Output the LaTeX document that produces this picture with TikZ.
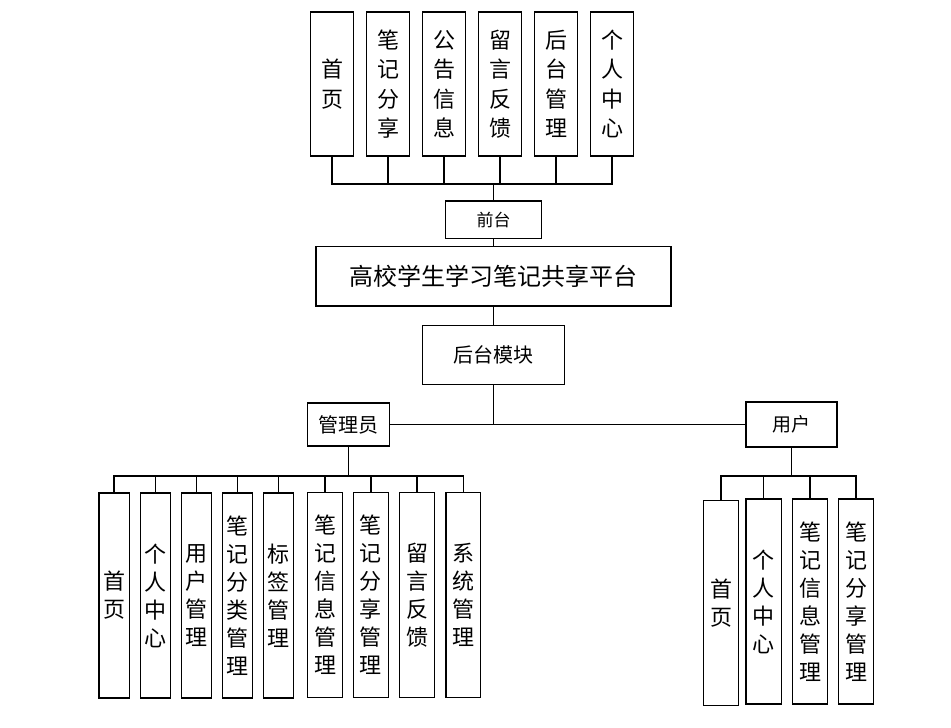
\documentclass[tikz,border=0pt]{standalone}
\usepackage{fontspec}
\setmainfont{Noto Sans CJK SC}
\begin{document}
\begin{tikzpicture}[x=1pt,y=-1pt,
  box/.style={draw,line width=1.5pt,inner sep=0pt,align=center},
  vbox/.style={box,minimum width=43pt,minimum height=144pt,font=\fontsize{22}{29.5}\selectfont},
  lbox/.style={box,minimum height=205pt,font=\fontsize{22}{28}\selectfont},
  conn/.style={line width=1.5pt}]
\useasboundingbox (0,0) rectangle (951,728);
% top modules
\node[vbox] (t1) at (332,84) {首\\页};
\node[vbox] (t2) at (388,84) {笔\\记\\分\\享};
\node[vbox] (t3) at (444,84) {公\\告\\信\\息};
\node[vbox] (t4) at (500,84) {留\\言\\反\\馈};
\node[vbox] (t5) at (556,84) {后\\台\\管\\理};
\node[vbox] (t6) at (612,84) {个\\人\\中\\心};
\node[box,minimum width=95.6pt,minimum height=37.3pt,font=\fontsize{17}{20}\selectfont] (qt) at (493.5,219.7) {前台};
\node[box,minimum width=355pt,minimum height=59.3pt,font=\fontsize{24}{28}\selectfont] (main) at (493.5,276.3) {高校学生学习笔记共享平台};
\node[box,minimum width=142.4pt,minimum height=59pt,font=\fontsize{20}{24}\selectfont] (ht) at (493.5,354.8) {后台模块};
\node[box,minimum width=82pt,minimum height=43.3pt,font=\fontsize{20}{24}\selectfont] (gly) at (348.3,424.5) {管理员};
\node[box,minimum width=91pt,minimum height=44.6pt,font=\fontsize{19}{24}\selectfont] (yh) at (791.5,424.5) {用户};
% admin modules
\node[lbox,minimum width=30.4pt] (a1) at (114.2,595.5) {首\\页};
\node[lbox,minimum width=30.4pt] (a2) at (155.5,595.5) {个\\人\\中\\心};
\node[lbox,minimum width=30.4pt] (a3) at (196.5,595.5) {用\\户\\管\\理};
\node[lbox,minimum width=30.4pt] (a4) at (237.5,595.5) {笔\\记\\分\\类\\管\\理};
\node[lbox,minimum width=30.4pt] (a5) at (278.5,595.5) {标\\签\\管\\理};
\node[lbox,minimum width=34.6pt] (a6) at (325,594.8) {笔\\记\\信\\息\\管\\理};
\node[lbox,minimum width=35pt] (a7) at (370.8,594.8) {笔\\记\\分\\享\\管\\理};
\node[lbox,minimum width=35pt] (a8) at (417.2,594.8) {留\\言\\反\\馈};
\node[lbox,minimum width=34.7pt] (a9) at (463.3,594.8) {系\\统\\管\\理};
% user modules
\node[lbox,minimum width=35.4pt] (u1) at (721,603.2) {首\\页};
\node[lbox,minimum width=35.3pt] (u2) at (763.7,601.5) {个\\人\\中\\心};
\node[lbox,minimum width=35.4pt] (u3) at (810,601.5) {笔\\记\\信\\息\\管\\理};
\node[lbox,minimum width=35pt] (u4) at (856.2,601.5) {笔\\记\\分\\享\\管\\理};
% connectors
\coordinate (topbus) at (493.5,184);
\foreach \i in {1,...,6} \draw[conn] (t\i.south) |- (topbus);
\draw[conn] (topbus) -- (qt.north);
\draw[conn] (qt.south) -- (main.north);
\draw[conn] (main.south) -- (ht.north);
\coordinate (mid) at (493.5,424.5);
\draw[conn] (ht.south) -- (mid);
\draw[conn] (gly.east) -- (yh.west);
\coordinate (lbus) at (348.3,476);
\draw[conn] (gly.south) -- (lbus);
\foreach \i in {1,...,9} \draw[conn] (a\i.north) |- (lbus);
\coordinate (rbus) at (791.5,476);
\draw[conn] (yh.south) -- (rbus);
\foreach \i in {1,...,4} \draw[conn] (u\i.north) |- (rbus);
\end{tikzpicture}
\end{document}
